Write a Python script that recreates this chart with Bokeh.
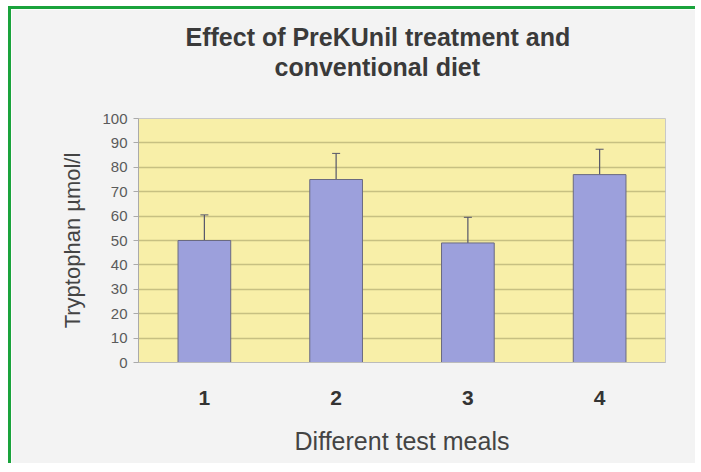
from bokeh.plotting import figure
from bokeh.models import ColumnDataSource, Whisker, TeeHead, Title, FactorRange, Range1d, FixedTicker
from bokeh.embed import file_html
from bokeh.resources import INLINE

meals = ["1", "2", "3", "4"]
tryptophan = [50, 75, 49, 77]
sd = [10.5, 10.7, 10.5, 10.4]
y_ticks = [0, 10, 20, 30, 40, 50, 60, 70, 80, 90, 100]

src = ColumnDataSource(dict(
    x=meals, top=tryptophan,
    upper=[m + e for m, e in zip(tryptophan, sd)],
    lower=[m - e for m, e in zip(tryptophan, sd)],
))

p = figure(width=687, height=457, output_backend="svg", toolbar_location=None,
           x_range=FactorRange(*meals, range_padding=0), y_range=Range1d(0, 100))
p.min_border_left = 127
p.min_border_right = 33
p.min_border_top = 109
p.min_border_bottom = 104
p.border_fill_color = "#f3f3f3"
p.background_fill_color = "#f8efa8"
p.outline_line_color = "#c8c8c8"
p.styles = {"border-left": "3px solid #1aa33c", "border-top": "3px solid #1aa33c",
            "box-sizing": "border-box", "margin-left": "8px", "margin-top": "6px"}

p.vbar(x="x", top="top", width=0.4, source=src, fill_color="#9ca0dc",
       line_color="#6a6a80", line_width=1)
p.add_layout(Whisker(source=src, base="x", upper="upper", lower="lower",
                     line_color="#55556a", line_width=1.2,
                     upper_head=TeeHead(size=8, line_color="#55556a"),
                     lower_head=TeeHead(size=8, line_color="#55556a")))

p.ygrid.grid_line_color = "#6e6a3c"
p.ygrid.grid_line_alpha = 0.35
p.ygrid.grid_line_width = 1.5
p.xgrid.grid_line_color = None

p.yaxis.ticker = FixedTicker(ticks=y_ticks)
p.yaxis.axis_label = "Tryptophan µmol/l"
p.yaxis.axis_label_text_font = "Liberation Sans"
p.yaxis.axis_label_text_font_style = "normal"
p.yaxis.axis_label_text_font_size = "22px"
p.yaxis.axis_label_text_color = "#444444"
p.yaxis.axis_label_standoff = 14
p.yaxis.major_label_text_font = "Liberation Sans"
p.yaxis.major_label_text_font_size = "15px"
p.yaxis.major_label_text_color = "#5a5a5a"
p.yaxis.axis_line_color = "#aaaaaa"
p.yaxis.major_tick_line_color = "#aaaaaa"
p.yaxis.major_tick_out = 5
p.yaxis.major_tick_in = 0
p.yaxis.minor_tick_line_color = None
p.yaxis.major_label_standoff = 6

p.xaxis.axis_label = "Different test meals"
p.xaxis.axis_label_text_font = "Liberation Sans"
p.xaxis.axis_label_text_font_style = "normal"
p.xaxis.axis_label_text_font_size = "25px"
p.xaxis.axis_label_text_color = "#444444"
p.xaxis.axis_label_standoff = 19
p.xaxis.major_label_text_font = "Liberation Sans"
p.xaxis.major_label_text_font_style = "bold"
p.xaxis.major_label_text_font_size = "21px"
p.xaxis.major_label_text_color = "#333333"
p.xaxis.major_tick_out = 0
p.xaxis.major_label_standoff = 28
p.xaxis.axis_line_color = "#bbbbbb"
p.xaxis.major_tick_line_color = None

title_style = dict(text_font="Liberation Sans", text_font_size="25px",
                   text_font_style="bold", text_color="#3a3a3a", standoff=0)
p.add_layout(Title(text=" ", text_font_size="32px", standoff=0), "above")
p.add_layout(Title(text="conventional diet", align="left", offset=136, **title_style), "above")
p.add_layout(Title(text="Effect of PreKUnil treatment and", align="left", offset=47, **title_style), "above")

open("out.html", "w").write(file_html(p, INLINE))
